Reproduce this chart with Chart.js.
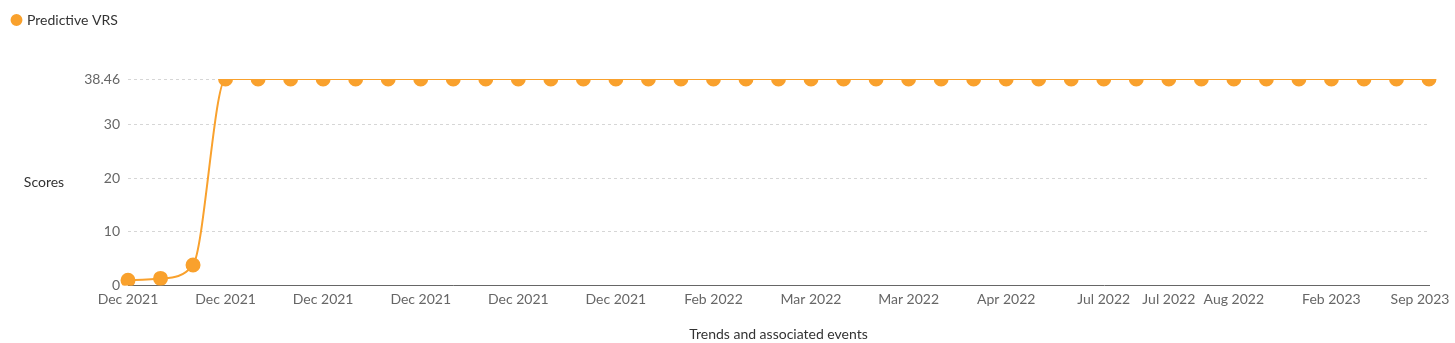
<!DOCTYPE html>
<html>
<head>
<meta charset="utf-8">
<script src="https://cdn.jsdelivr.net/npm/chart.js@4/dist/chart.umd.min.js"></script>
<style>
  html, body { margin: 0; padding: 0; background: #fff; }
  #wrap { width: 1455px; height: 343px; position: relative; }
</style>
</head>
<body>
<div id="wrap"><canvas id="chartVrs"></canvas></div>
<script>
// data
const fechas = [
    'Dec 2021','Dec 2021','Dec 2021','Dec 2021','Dec 2021','Dec 2021',
    'Dec 2021','Dec 2021','Dec 2021','Dec 2021','Dec 2021','Dec 2021',
    'Dec 2021','Dec 2021','Dec 2021','Dec 2021','Dec 2021','Dec 2021',
    'Feb 2022','Feb 2022','Feb 2022',
    'Mar 2022','Mar 2022','Mar 2022','Mar 2022','Mar 2022','Mar 2022',
    'Apr 2022','Apr 2022','Apr 2022',
    'Jul 2022','Jul 2022','Jul 2022','Jul 2022',
    'Aug 2022','Nov 2022','Dec 2022',
    'Feb 2023','Apr 2023','Jun 2023','Sep 2023'
];
const ticksVisibles = [0, 3, 6, 9, 12, 15, 18, 21, 24, 27, 30, 32, 34, 37, 40];
const valoresVrs = [
    0.94, 1.3, 3.8,
    38.46, 38.46, 38.46, 38.46, 38.46, 38.46, 38.46, 38.46, 38.46, 38.46,
    38.46, 38.46, 38.46, 38.46, 38.46, 38.46, 38.46, 38.46, 38.46, 38.46,
    38.46, 38.46, 38.46, 38.46, 38.46, 38.46, 38.46, 38.46, 38.46, 38.46,
    38.46, 38.46, 38.46, 38.46, 38.46, 38.46, 38.46, 38.46
];
const ticksY = [0, 10, 20, 30, 38.46];

const naranja = '#f9a12d';
Chart.defaults.font.family = 'Lato, "Open Sans", sans-serif';
Chart.defaults.font.size = 14;

// titulo horizontal del eje Y
const tituloScores = {
    id: 'tituloScores',
    afterDraw(chart) {
        const { ctx, chartArea } = chart;
        ctx.save();
        ctx.font = '14px Lato, sans-serif';
        ctx.fillStyle = '#333';
        ctx.textAlign = 'center';
        ctx.textBaseline = 'middle';
        ctx.fillText('Scores', 44, (chartArea.top + chartArea.bottom) / 2);
        ctx.restore();
    }
};

// espacio extra bajo la leyenda
const espacioLeyenda = {
    id: 'espacioLeyenda',
    beforeInit(chart) {
        const fitOriginal = chart.legend.fit;
        chart.legend.fit = function () {
            fitOriginal.bind(this)();
            this.height += 42;
        };
    }
};

new Chart(document.getElementById('chartVrs'), {
    type: 'line',
    data: {
        labels: fechas,
        datasets: [{
            label: 'Predictive VRS',
            data: valoresVrs,
            borderColor: naranja,
            backgroundColor: naranja,
            borderWidth: 2,
            pointRadius: 6.5,
            pointHoverRadius: 7,
            pointBackgroundColor: naranja,
            pointBorderColor: naranja,
            cubicInterpolationMode: 'monotone'
        }]
    },
    options: {
        responsive: true,
        maintainAspectRatio: false,
        animation: false,
        layout: { padding: 0 },
        plugins: {
            legend: {
                position: 'top',
                align: 'start',
                labels: {
                    usePointStyle: true,
                    pointStyle: 'circle',
                    boxWidth: 7,
                    boxHeight: 7,
                    color: '#333',
                    padding: 13
                }
            },
            tooltip: { enabled: false }
        },
        scales: {
            x: {
                offset: false,
                afterFit: axis => { axis.paddingRight = 26; },
                grid: { display: false, drawTicks: false },
                border: { display: true, color: '#666', width: 1 },
                ticks: {
                    autoSkip: false,
                    maxRotation: 0,
                    color: '#666',
                    padding: 6,
                    callback: (v, i) => {
                        if (!ticksVisibles.includes(i)) return '';
                        // la ultima etiqueta se corre a la izquierda para que quepa
                        return i === fechas.length - 1 ? fechas[i] + '     ' : fechas[i];
                    }
                },
                title: {
                    display: true,
                    text: 'Trends and associated events',
                    color: '#333',
                    padding: { top: 12, bottom: 0 }
                }
            },
            y: {
                min: 0,
                max: 38.46,
                afterBuildTicks: axis => { axis.ticks = ticksY.map(v => ({ value: v })); },
                afterFit: axis => { axis.width = 128; },
                grid: {
                    color: '#d6d6d6',
                    drawTicks: false
                },
                border: { display: false, dash: [3, 3] },
                ticks: { color: '#666', padding: 8, callback: v => String(v) }
            }
        }
    },
    plugins: [tituloScores, espacioLeyenda]
});
</script>
</body>
</html>
